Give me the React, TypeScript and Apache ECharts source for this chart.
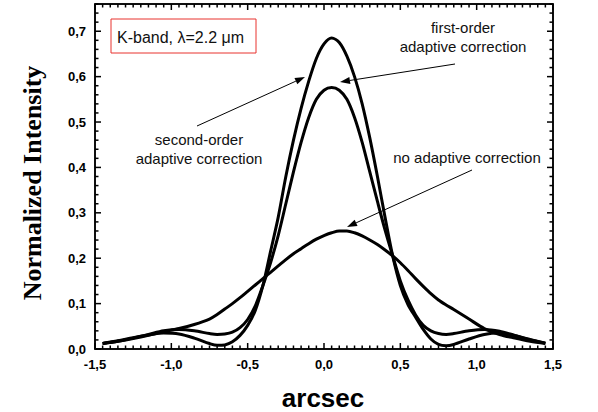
import React, { useEffect, useRef } from "react";
import * as echarts from "echarts";

// x positions (arcsec)
const xs = [
  -1.45, -1.35, -1.25, -1.15, -1.05, -0.95, -0.85, -0.75,
  -0.7, -0.65, -0.6, -0.55, -0.5, -0.45, -0.4, -0.35, -0.3, -0.25, -0.2, -0.15, -0.1, -0.05,
  0, 0.05, 0.1, 0.15, 0.2, 0.25, 0.3, 0.35, 0.4, 0.45, 0.5, 0.55, 0.6, 0.65, 0.7, 0.75, 0.8, 0.85,
  0.95, 1.05, 1.15, 1.25, 1.35, 1.45,
];

const secondOrder = [
  0.012, 0.018, 0.025, 0.031, 0.035, 0.033, 0.024, 0.012,
  0.008, 0.009, 0.016, 0.03, 0.052, 0.085, 0.14, 0.215, 0.29, 0.38, 0.46, 0.53, 0.59, 0.64,
  0.672, 0.685, 0.675, 0.645, 0.6, 0.54, 0.465, 0.38, 0.29, 0.205, 0.14, 0.098, 0.07, 0.043, 0.022, 0.01, 0.007, 0.01,
  0.022, 0.032, 0.035, 0.029, 0.02, 0.013,
];

const firstOrder = [
  0.012, 0.017, 0.024, 0.032, 0.04, 0.043, 0.04, 0.034,
  0.032, 0.033, 0.037, 0.047, 0.065, 0.095, 0.14, 0.19, 0.25, 0.32, 0.39, 0.455, 0.51, 0.55,
  0.57, 0.576, 0.57, 0.55, 0.51, 0.455, 0.39, 0.325, 0.262, 0.205, 0.15, 0.108, 0.075, 0.052, 0.04, 0.034, 0.032, 0.034,
  0.04, 0.043, 0.039, 0.03, 0.021, 0.013,
];

const noCorrection = [
  0.012, 0.017, 0.023, 0.03, 0.038, 0.045, 0.054, 0.066,
  0.076, 0.088, 0.1, 0.113, 0.127, 0.141, 0.155, 0.169, 0.183, 0.197, 0.21, 0.221, 0.232, 0.242,
  0.25, 0.256, 0.26, 0.26, 0.256, 0.249, 0.24, 0.23, 0.218, 0.205, 0.19, 0.173, 0.155, 0.138, 0.122, 0.108, 0.097, 0.087,
  0.066, 0.045, 0.032, 0.024, 0.017, 0.012,
];

const xMin = -1.5;
const xMax = 1.5;
const xStep = 0.5;
const xMinorStep = 0.05;
const yMin = 0;
const yMax = 0.76;
const yStep = 0.1;
const yMinorStep = 0.02;

const W = 598;
const H = 412;
const GRID = { left: 95, right: 45, top: 4, bottom: 63 };

const SANS = '"Liberation Sans", Arial, Helvetica, sans-serif';
const SERIF = '"Liberation Serif", "Times New Roman", serif';

function fmt(v: number): string {
  if (Math.abs(v * 10 - Math.round(v * 10)) > 1e-6) return "";
  return v.toFixed(1).replace(".", ",");
}

function steps(a: number, b: number, s: number): number[] {
  const out: number[] = [];
  const n = Math.round((b - a) / s);
  for (let i = 0; i <= n; i++) out.push(+(a + i * s).toFixed(4));
  return out;
}

function arrow(id: string, x1: number, y1: number, x2: number, y2: number): any[] {
  const dx = x2 - x1;
  const dy = y2 - y1;
  const L = Math.hypot(dx, dy);
  const ux = dx / L;
  const uy = dy / L;
  const hl = 10;
  const hw = 3.5;
  const bx = x2 - ux * hl;
  const by = y2 - uy * hl;
  return [
    { id: id + "-l", type: "line", z: 100, shape: { x1, y1, x2: bx, y2: by }, style: { stroke: "#000", lineWidth: 1 } },
    {
      id: id + "-h",
      type: "polygon",
      z: 100,
      shape: { points: [[x2, y2], [bx - uy * hw, by + ux * hw], [bx + uy * hw, by - ux * hw]] },
      style: { fill: "#000" },
    },
  ];
}

function text(id: string, x: number, y: number, t: string, extra: any = {}): any {
  return {
    id,
    type: "text",
    z: 100,
    x,
    y,
    style: {
      text: t,
      font: `15px ${SANS}`,
      fill: "#111",
      textAlign: "center",
      textVerticalAlign: "middle",
      ...extra,
    },
  };
}

export default function App() {
  const ref = useRef<HTMLDivElement>(null);
  useEffect(() => {
    document.body.style.margin = "0";
    if (!ref.current) return;
    const chart = echarts.init(ref.current, null, { renderer: "svg" });
    const mk = (arr: number[]) => xs.map((x, i) => [x, arr[i]]);
    const lineSeries = (name: string, arr: number[]) => ({
      name,
      type: "line",
      data: mk(arr),
      smooth: 0.3,
      showSymbol: false,
      symbol: "none",
      lineStyle: { color: "#000", width: 3 },
      itemStyle: { color: "#000" },
    });
    const labelStyle = {
      formatter: fmt,
      color: "#000",
      fontWeight: "bold",
      fontSize: 13,
      fontFamily: SANS,
      margin: 9,
    };
    chart.setOption({
      animation: false,
      grid: { ...GRID, show: true, borderColor: "#000", borderWidth: 1.5 },
      xAxis: {
        type: "value",
        min: xMin,
        max: xMax,
        interval: xStep,
        axisLine: { show: false },
        axisTick: { show: false },
        axisLabel: labelStyle,
        splitLine: { show: false },
      },
      yAxis: {
        type: "value",
        min: yMin,
        max: yMax,
        interval: yStep,
        axisLine: { show: false },
        axisTick: { show: false },
        axisLabel: { ...labelStyle, showMaxLabel: false },
        splitLine: { show: false },
      },
      series: [
        lineSeries("second-order adaptive correction", secondOrder),
        lineSeries("first-order adaptive correction", firstOrder),
        lineSeries("no adaptive correction", noCorrection),
      ],
    });

    const els: any[] = [
      {
        id: "kbox",
        type: "rect",
        z: 100,
        shape: { x: 111, y: 19, width: 145, height: 34 },
        style: { fill: "#fff", stroke: "#e8332f", lineWidth: 1 },
      },
      text("kband", 117, 37, "K-band, λ=2.2 μm", { textAlign: "left", font: `16px ${SANS}` }),
      text("fo1", 463, 27, "first-order"),
      text("fo2", 463, 46, "adaptive correction"),
      text("so1", 199, 139, "second-order"),
      text("so2", 199, 158, "adaptive correction"),
      text("no1", 467, 157, "no adaptive correction"),
      ...arrow("a1", 197, 126, 305, 77),
      ...arrow("a2", 455, 64, 340, 82),
      ...arrow("a3", 472, 170, 347, 227),
      {
        id: "xname",
        type: "text",
        z: 100,
        x: 323,
        y: 398,
        style: {
          text: "arcsec",
          font: `bold 26px ${SANS}`,
          fill: "#000",
          textAlign: "center",
          textVerticalAlign: "middle",
        },
      },
      {
        id: "yname",
        type: "text",
        z: 100,
        x: 32,
        y: 183,
        rotation: Math.PI / 2,
        style: {
          text: "Normalized Intensity",
          font: `bold 26px ${SERIF}`,
          fill: "#000",
          textAlign: "center",
          textVerticalAlign: "middle",
        },
      },
    ];

    // pixel positions through the chart's own scales, with a grid-based fallback
    const plotW = W - GRID.left - GRID.right;
    const plotH = H - GRID.top - GRID.bottom;
    const px = (v: number) => {
      let r: any = NaN;
      try {
        r = chart.convertToPixel({ xAxisIndex: 0 }, v);
      } catch (e) {
        r = NaN;
      }
      r = Array.isArray(r) ? r[0] : Number(r);
      return isFinite(r) ? r : GRID.left + ((v - xMin) / (xMax - xMin)) * plotW;
    };
    const py = (v: number) => {
      let r: any = NaN;
      try {
        r = chart.convertToPixel({ yAxisIndex: 0 }, v);
      } catch (e) {
        r = NaN;
      }
      r = Array.isArray(r) ? r[1] : Number(r);
      return isFinite(r) ? r : GRID.top + plotH - ((v - yMin) / (yMax - yMin)) * plotH;
    };
    const L = px(xMin);
    const R = px(xMax);
    const T = py(yMax);
    const B = py(yMin);
    const st = { stroke: "#000", lineWidth: 1.5 };
    const isMajor = (v: number, s: number) => Math.abs(v / s - Math.round(v / s)) < 1e-6;
    els.push({ id: "frame", type: "rect", z: 100, shape: { x: L, y: T, width: R - L, height: B - T }, style: { fill: "none", ...st } });
    steps(xMin, xMax, xMinorStep).forEach((v, i) => {
      const x = px(v);
      const len = isMajor(v, xStep) ? 6 : 3.5;
      els.push({ id: "xb" + i, type: "line", z: 100, shape: { x1: x, y1: B, x2: x, y2: B - len }, style: st });
      els.push({ id: "xt" + i, type: "line", z: 100, shape: { x1: x, y1: T, x2: x, y2: T + len }, style: st });
    });
    steps(yMin, yMax, yMinorStep).forEach((v, i) => {
      const y = py(v);
      const len = isMajor(v, yStep) ? 6 : 3.5;
      els.push({ id: "yl" + i, type: "line", z: 100, shape: { x1: L, y1: y, x2: L + len, y2: y }, style: st });
      els.push({ id: "yr" + i, type: "line", z: 100, shape: { x1: R, y1: y, x2: R - len, y2: y }, style: st });
    });
    chart.setOption({ graphic: { elements: els } });

    return () => chart.dispose();
  }, []);
  return <div ref={ref} style={{ width: W, height: H }} />;
}
